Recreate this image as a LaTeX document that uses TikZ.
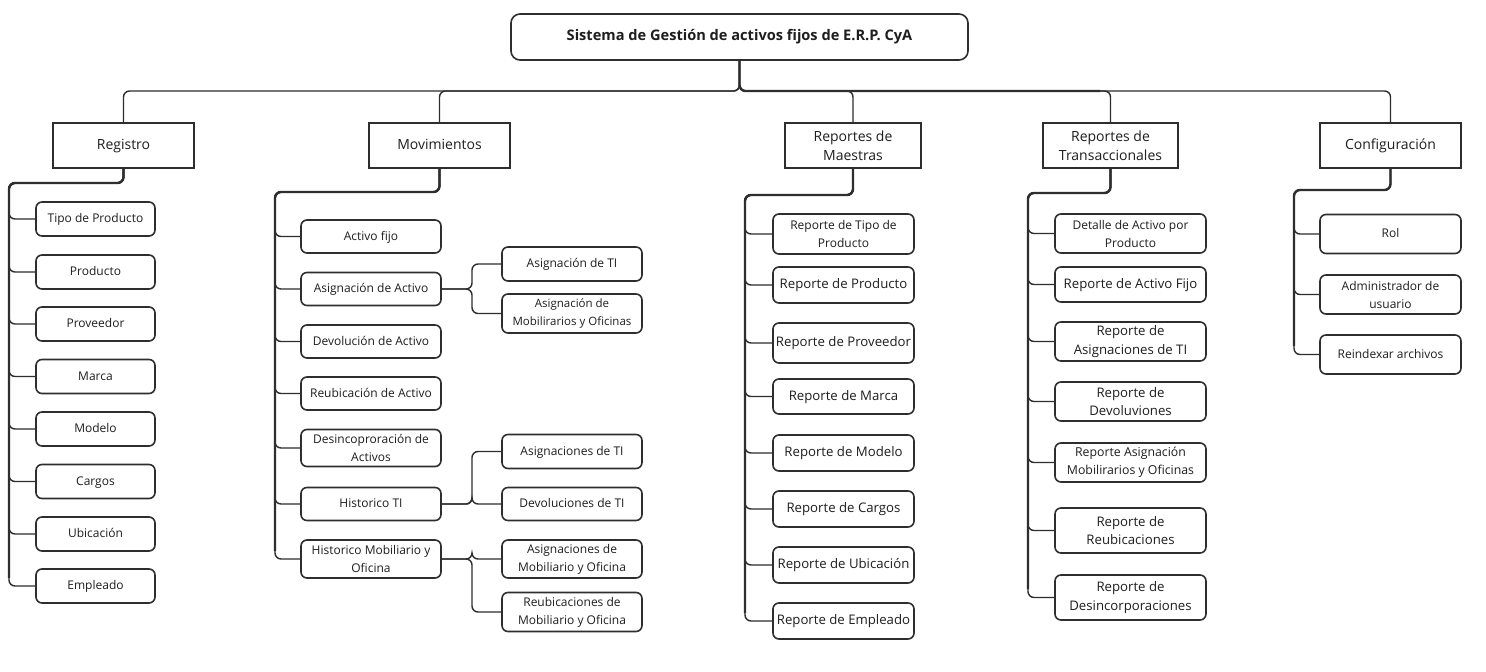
\documentclass[tikz,border=0pt]{standalone}
\usepackage{fontspec}
\setmainfont{Open Sans}
\definecolor{ln}{HTML}{2E2E2E}
\definecolor{tx}{HTML}{1E1E1E}
\tikzset{
  base/.style={draw=ln, line width=1.6pt, fill=white, text=tx, align=center, inner sep=0pt},
  leaf/.style={base, rounded corners=6pt, font=\fontsize{12}{18}\selectfont},
  big/.style={font=\fontsize{13.2}{18.5}\selectfont},
  hdr/.style={base, font=\fontsize{14}{19}\selectfont},
  ttl/.style={base, rounded corners=9pt, font=\fontsize{14.6}{17}\selectfont\bfseries},
  one/.style={text height=0.72em, text depth=0pt},
  conn/.style={draw=ln, line width=1.4pt, rounded corners=6pt},
  trunk/.style={draw=ln, line width=2.4pt, rounded corners=6pt},
  wh/.style 2 args={minimum width=#1pt, minimum height=#2pt}
}
\begin{document}
\begin{tikzpicture}[x=1pt,y=-1pt]
\useasboundingbox (0,0) rectangle (1486,672);
\fill[white] (0,0) rectangle (1486,672);

% title and headers
\node[ttl, one, wh={457}{46}] (T) at (739.5,37) {Sistema de Gestión de activos fijos de E.R.P. CyA};
\node[hdr, one, wh={141}{45}] (R) at (123.5,145.5) {Registro};
\node[hdr, one, wh={141}{45}] (M) at (439.5,145.5) {Movimientos};
\node[hdr, wh={136}{45}] (RM) at (853,145.5) {Reportes de\\Maestras};
\node[hdr, wh={135}{45}] (RT) at (1110.5,145.5) {Reportes de\\Transaccionales};
\node[hdr, one, wh={141}{45}] (C) at (1390.5,145.5) {Configuración};

% Registro children
\node[leaf, one, wh={119}{34}] (r1) at (95.5,219) {Tipo de Producto};
\node[leaf, one, wh={119}{34}] (r2) at (95.5,272) {Producto};
\node[leaf, one, wh={119}{34}] (r3) at (95.5,324) {Proveedor};
\node[leaf, one, wh={119}{34}] (r4) at (95.5,376.5) {Marca};
\node[leaf, one, wh={119}{34}] (r5) at (95.5,429) {Modelo};
\node[leaf, one, wh={119}{34}] (r6) at (95.5,481.5) {Cargos};
\node[leaf, one, wh={119}{34}] (r7) at (95.5,534) {Ubicación};
\node[leaf, one, wh={119}{34}] (r8) at (95.5,586) {Empleado};

% Movimientos children
\node[leaf, one, wh={140}{33}] (m1) at (371,236.5) {Activo fijo};
\node[leaf, one, wh={140}{33}] (m2) at (371,289) {Asignación de Activo};
\node[leaf, one, wh={140}{33}] (m3) at (371,341.5) {Devolución de Activo};
\node[leaf, one, wh={140}{33}] (m4) at (371,393.5) {Reubicación de Activo};
\node[leaf, wh={140}{37}] (m5) at (371,448) {Desincoproración de\\Activos};
\node[leaf, one, wh={140}{33}] (m6) at (371,504) {Historico TI};
\node[leaf, wh={140}{38}] (m7) at (371,559) {Historico Mobiliario y\\Oficina};

\node[leaf, one, wh={140}{34}] (s1) at (572,264) {Asignación de TI};
\node[leaf, wh={140}{39}, font=\fontsize{11.5}{18}\selectfont] (s2) at (572,313.5) {Asignación de\\Mobilirarios y Oficinas};
\node[leaf, one, wh={140}{34}] (s3) at (572,451.5) {Asignaciones de TI};
\node[leaf, one, wh={140}{33}] (s4) at (572,504) {Devoluciones de TI};
\node[leaf, wh={140}{38}] (s5) at (572,559) {Asignaciones de\\Mobiliario y Oficina};
\node[leaf, wh={140}{39}] (s6) at (572,612) {Reubicaciones de\\Mobiliario y Oficina};

% Reportes de Maestras children
\node[leaf, wh={141}{40}] (a1) at (843.5,234) {Reporte de Tipo de\\Producto};
\node[leaf, big, one, wh={141}{36}] (a2) at (843.5,285) {Reporte de Producto};
\node[leaf, big, one, wh={141}{40}] (a3) at (843.5,343) {Reporte de Proveedor};
\node[leaf, big, one, wh={141}{35}] (a4) at (843.5,396.5) {Reporte de Marca};
\node[leaf, big, one, wh={141}{36}] (a5) at (843.5,453) {Reporte de Modelo};
\node[leaf, big, one, wh={141}{36}] (a6) at (843.5,509) {Reporte de Cargos};
\node[leaf, big, one, wh={141}{36}] (a7) at (843.5,565) {Reporte de Ubicación};
\node[leaf, big, one, wh={141}{36}] (a8) at (843.5,621) {Reporte de Empleado};

% Reportes de Transaccionales children
\node[leaf, wh={151}{39}] (t1) at (1130.5,233.5) {Detalle de Activo por\\Producto};
\node[leaf, big, one, wh={151}{35}] (t2) at (1130.5,284.5) {Reporte de Activo Fijo};
\node[leaf, big, wh={151}{39}] (t3) at (1130.5,341.5) {Reporte de\\Asignaciones de TI};
\node[leaf, big, wh={151}{39}] (t4) at (1130.5,401.5) {Reporte de\\Devoluviones};
\node[leaf, wh={151}{39}, font=\fontsize{12.3}{18}\selectfont] (t5) at (1130.5,462.5) {Reporte Asignación\\Mobilirarios y Oficinas};
\node[leaf, big, wh={151}{45}] (t6) at (1130.5,530.5) {Reporte de\\Reubicaciones};
\node[leaf, big, wh={151}{45}] (t7) at (1130.5,597.5) {Reporte de\\Desincorporaciones};

% Configuracion children
\node[leaf, one, wh={141}{39}] (c1) at (1390.5,234) {Rol};
\node[leaf, wh={141}{39}] (c2) at (1390.5,294.5) {Administrador de\\usuario};
\node[leaf, one, wh={141}{39}] (c3) at (1390.5,354.5) {Reindexar archivos};

% junction coordinates
\coordinate (tj) at (739.5,91);
\coordinate (tjr) at (1100,91);
\coordinate (rj) at (9,183);
\coordinate (mj) at (275,192);
\coordinate (aj) at (745,195);
\coordinate (tt) at (1028,193);
\coordinate (cj) at (1294,190);
\coordinate (rE) at (9,578);
\coordinate (mE) at (275,551);
\coordinate (aE) at (745,613);
\coordinate (tE) at (1028,589);
\coordinate (cE) at (1294,346);
\coordinate (bj1) at (472,289);
\coordinate (bj2) at (472,504);
\coordinate (bj3) at (472,559);

\begin{scope}[on background layer/.try]
% top level connectors
\foreach \h in {R,M,RM,RT,C}{
  \draw[conn] (T.south) -- (tj) -| (\h.north);
}
\draw[trunk] (T.south) -- (tj) -- (tjr);

% trunks
\draw[trunk] (R.south) |- (rj) -- (rE);
\draw[trunk] (M.south) |- (mj) -- (mE);
\draw[trunk] (RM.south) |- (aj) -- (aE);
\draw[trunk] (RT.south) |- (tt) -- (tE);
\draw[trunk] (C.south) |- (cj) -- (cE);

\foreach \c in {r1,r2,r3,r4,r5,r6,r7,r8}{\draw[conn] (R.south) |- (rj) |- (\c.west);}
\foreach \c in {m1,m2,m3,m4,m5,m6,m7}{\draw[conn] (M.south) |- (mj) |- (\c.west);}
\foreach \c in {a1,a2,a3,a4,a5,a6,a7,a8}{\draw[conn] (RM.south) |- (aj) |- (\c.west);}
\foreach \c in {t1,t2,t3,t4,t5,t6,t7}{\draw[conn] (RT.south) |- (tt) |- (\c.west);}
\foreach \c in {c1,c2,c3}{\draw[conn] (C.south) |- (cj) |- (\c.west);}

\draw[conn] (m2.east) -- (bj1) |- (s1.west);
\draw[conn] (m2.east) -- (bj1) |- (s2.west);
\draw[conn] (m6.east) -- (bj2) |- (s3.west);
\draw[conn] (m6.east) -- (bj2) |- (s4.west);
\draw[conn] (m7.east) -- (bj3) |- (s5.west);
\draw[conn] (m7.east) -- (bj3) |- (s6.west);
\end{scope}
\end{tikzpicture}
\end{document}
